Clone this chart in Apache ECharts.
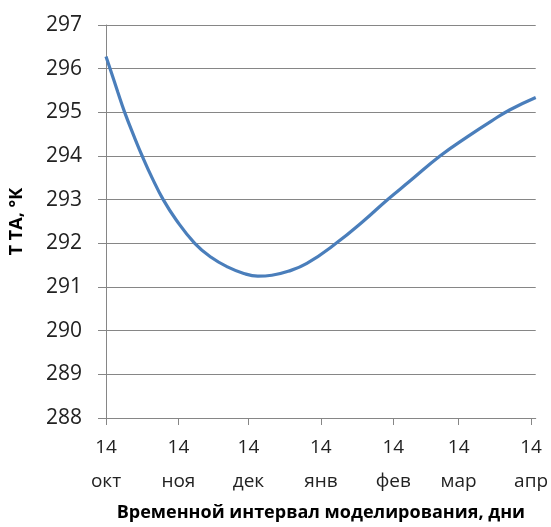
<!DOCTYPE html>
<html>
<head>
<meta charset="utf-8">
<script src="https://cdn.jsdelivr.net/npm/echarts@6/dist/echarts.min.js"></script>
<style>
html,body{margin:0;padding:0;background:#fff;}
#c{width:551px;height:527px;}
</style>
</head>
<body>
<div id="c"></div>
<script>
// Days counted from 14 Oct
const tickDays = [0, 31, 61, 92, 123, 151, 182];
const tickDayLabels = ['14', '14', '14', '14', '14', '14', '14'];
const tickMonthLabels = ['окт', 'ноя', 'дек', 'янв', 'фев', 'мар', 'апр'];
const yTicks = [288, 289, 290, 291, 292, 293, 294, 295, 296, 297];

const days = [0, 2, 5, 8, 12, 15.5, 20, 24.5, 30, 38, 45, 52, 59, 65, 71, 78, 86, 98.5, 110, 120.5, 130, 143, 155, 165, 173, 184];
const temps = [296.28, 295.96, 295.47, 295.0, 294.45, 294.0, 293.47, 293.0, 292.54, 292.0, 291.68, 291.46, 291.31, 291.25, 291.27, 291.36, 291.54, 292.0, 292.5, 293.0, 293.42, 294.0, 294.45, 294.8, 295.06, 295.34];

const FONT = 'Open Sans';
const chart = echarts.init(document.getElementById('c'), null, {renderer: 'canvas'});
chart.setOption({
  animation: false,
  backgroundColor: '#ffffff',
  grid: {left: 102, right: 14, top: 25, bottom: 109, containLabel: false},
  xAxis: {
    type: 'value',
    min: 0,
    max: 184,
    name: 'Временной интервал моделирования, дни',
    nameLocation: 'middle',
    nameGap: 80,
    nameTextStyle: {fontFamily: FONT, fontWeight: 'bold', fontSize: 18, color: '#000'},
    axisLine: {show: true, lineStyle: {color: '#868686', width: 1}},
    axisTick: {show: true, length: 7, lineStyle: {color: '#868686'}, customValues: tickDays},
    axisLabel: {
      customValues: tickDays,
      margin: 13,
      fontFamily: FONT,
      fontSize: 19,
      color: '#222',
      lineHeight: 34,
      formatter: function (v) {
        const i = tickDays.indexOf(Math.round(v));
        return i >= 0 ? tickDayLabels[i] + '\n' + tickMonthLabels[i] : '';
      }
    },
    splitLine: {show: false}
  },
  yAxis: {
    type: 'value',
    min: yTicks[0],
    max: yTicks[yTicks.length - 1],
    interval: 1,
    name: 'Т ТА, °К',
    nameLocation: 'middle',
    nameGap: 80,
    nameRotate: 90,
    nameTextStyle: {fontFamily: FONT, fontWeight: 'bold', fontSize: 18, color: '#000'},
    axisLine: {show: true, lineStyle: {color: '#868686', width: 1}},
    axisTick: {show: true, length: 8, inside: false, lineStyle: {color: '#868686'}},
    axisLabel: {fontFamily: FONT, fontSize: 21, color: '#222', margin: 24},
    splitLine: {show: true, lineStyle: {color: '#868686', width: 1}}
  },
  series: [{
    type: 'line',
    data: days.map((d, i) => [d, temps[i]]),
    smooth: 0.45,
    showSymbol: false,
    lineStyle: {color: '#4a7ebb', width: 3.2},
    clip: false
  }]
});
</script>
</body>
</html>
